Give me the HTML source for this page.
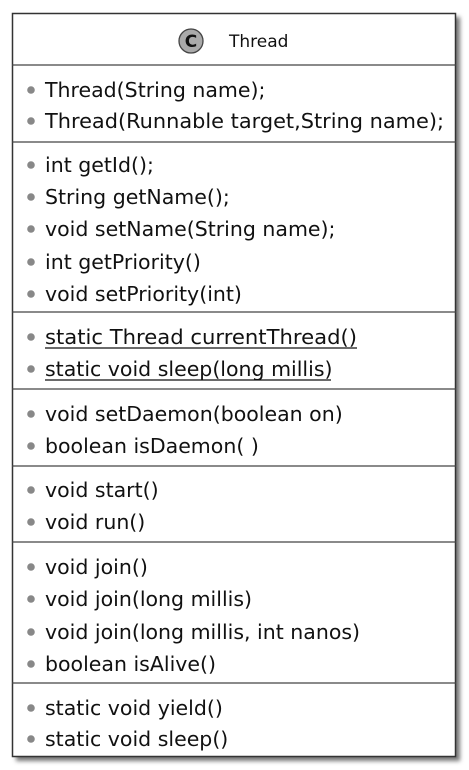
<!DOCTYPE html>
<html><head><meta charset="utf-8"><style>
html,body{margin:0;padding:0;background:#fff;}
svg{display:block;}
text{font-family:"DejaVu Sans","Liberation Sans",sans-serif;fill:#111;}
</style></head><body>
<svg width="469" height="770" xmlns="http://www.w3.org/2000/svg">
<defs><filter id="sh" x="-5%" y="-5%" width="115%" height="115%"><feGaussianBlur stdDeviation="2"/></filter></defs>
<rect x="16" y="17" width="444" height="744" fill="#777" filter="url(#sh)"/>
<rect x="12.5" y="13.5" width="443" height="743" fill="#fff" stroke="#333" stroke-width="1.5"/>
<g stroke="#444" stroke-width="1.3">
<line x1="12" y1="65" x2="456" y2="65"/>
<line x1="12" y1="142" x2="456" y2="142"/>
<line x1="12" y1="312" x2="456" y2="312"/>
<line x1="12" y1="389" x2="456" y2="389"/>
<line x1="12" y1="466" x2="456" y2="466"/>
<line x1="12" y1="542" x2="456" y2="542"/>
<line x1="12" y1="683" x2="456" y2="683"/>
</g>
<circle cx="191" cy="41" r="12" fill="#aaa" stroke="#444" stroke-width="1.3"/>
<text x="191" y="47" text-anchor="middle" font-size="17" font-weight="bold">C</text>
<text x="229" y="47" font-size="17">Thread</text>
<g fill="#888">
<circle cx="31" cy="90" r="3.8"/><circle cx="31" cy="121" r="3.8"/>
<circle cx="31" cy="165" r="3.8"/><circle cx="31" cy="197" r="3.8"/><circle cx="31" cy="229" r="3.8"/><circle cx="31" cy="262" r="3.8"/><circle cx="31" cy="294" r="3.8"/>
<circle cx="31" cy="337" r="3.8"/><circle cx="31" cy="369" r="3.8"/>
<circle cx="31" cy="414" r="3.8"/><circle cx="31" cy="446" r="3.8"/>
<circle cx="31" cy="490" r="3.8"/><circle cx="31" cy="522" r="3.8"/>
<circle cx="31" cy="567" r="3.8"/><circle cx="31" cy="599" r="3.8"/><circle cx="31" cy="632" r="3.8"/><circle cx="31" cy="664" r="3.8"/>
<circle cx="31" cy="708" r="3.8"/><circle cx="31" cy="739" r="3.8"/>
</g>
<g font-size="20.5">
<text x="45" y="97">Thread(String name);</text>
<text x="45" y="128" textLength="399" lengthAdjust="spacingAndGlyphs">Thread(Runnable target,String name);</text>
<text x="45" y="172">int getId();</text>
<text x="45" y="204">String getName();</text>
<text x="45" y="236">void setName(String name);</text>
<text x="45" y="269">int getPriority()</text>
<text x="45" y="301">void setPriority(int)</text>
<text x="45" y="344" textLength="312" lengthAdjust="spacingAndGlyphs">static Thread currentThread()</text>
<text x="45" y="376">static void sleep(long millis)</text>
<text x="45" y="421">void setDaemon(boolean on)</text>
<text x="45" y="453">boolean isDaemon( )</text>
<text x="45" y="497">void start()</text>
<text x="45" y="529">void run()</text>
<text x="45" y="574">void join()</text>
<text x="45" y="606">void join(long millis)</text>
<text x="45" y="639">void join(long millis, int nanos)</text>
<text x="45" y="671">boolean isAlive()</text>
<text x="45" y="715">static void yield()</text>
<text x="45" y="746">static void sleep()</text>
</g>
<line x1="45" y1="348" x2="357" y2="348" stroke="#111" stroke-width="1.2"/>
<line x1="45" y1="380" x2="331" y2="380" stroke="#111" stroke-width="1.2"/>
</svg>
</body></html>
